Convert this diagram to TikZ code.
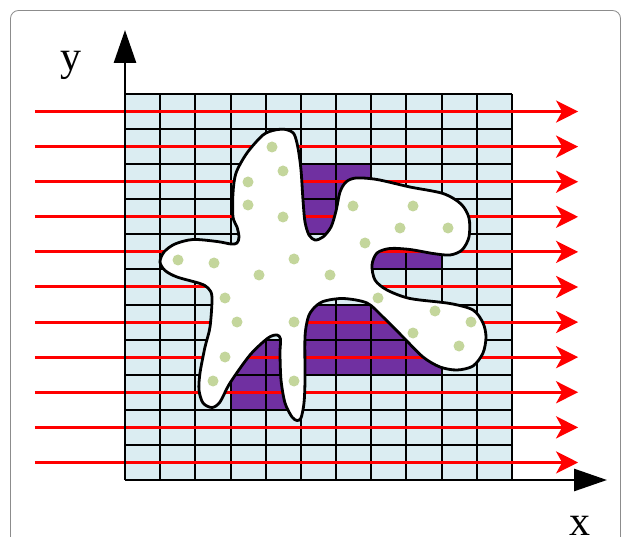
\documentclass[tikz,border=0pt]{standalone}
\usepackage{fontspec}
\setmainfont{Liberation Serif}
\usepackage{xcolor}
\usepackage{tikz}
\usetikzlibrary{arrows.meta}
\definecolor{gcblue}{rgb}{0.86,0.93,0.95}
\definecolor{gcpurple}{rgb}{0.44,0.19,0.63}
\definecolor{gcgreen}{rgb}{0.77,0.84,0.61}
\definecolor{gcframe}{rgb}{0.55,0.55,0.55}

\begin{document}
\begin{tikzpicture}[
  x=1pt, y=-1pt,
  cellbg/.style={fill=gcblue},
  hit/.style={fill=gcpurple},
  gridline/.style={black, line width=2pt},
  ray/.style={red, line width=3pt, -{Stealth[length=22pt, width=22pt, inset=6pt]}},
  axisline/.style={black, line width=2.8pt, -{Triangle[length=33pt, width=22pt]}},
  blob/.style={draw=black, fill=white, line width=2.8pt, line join=round},
  spot/.style={fill=gcgreen},
  label/.style={font=\fontsize{42}{48}\selectfont, inner sep=0pt, anchor=base}
]
\useasboundingbox (0,0) rectangle (621,537);

% outer frame
\draw[gcframe, line width=0.8pt, rounded corners=8pt] (10.5,10.5) rectangle (620.5,580);

% grid of cells, counted from the top left corner
\begin{scope}[shift={(125,94)}, x=35.18pt, y=-35.09pt]
  \fill[cellbg] (0,0) rectangle (11,11);
  \foreach \c/\r in {5/2,6/2,5/3,6/3,7/4,8/4,
                     5/6,6/6,7/6,8/6,5/7,6/7,7/7,8/7,
                     3/7,4/7,3/8,4/8}
    \fill[hit] (\c,\r) rectangle ++(1,1);
  \foreach \c in {0,...,11}
    \draw[gridline] (\c,0) -- (\c,11);
  \foreach \r in {0,...,11}
    \draw[gridline] (0,\r) -- (11,\r);

  % parallel rays
  \foreach \r in {0,...,10} {
    \coordinate (ray\r-w) at (-2.56,\r+0.5);
    \coordinate (ray\r-e) at (12.88,\r+0.5);
    \draw[ray] (ray\r-w) -- (ray\r-e);
  }
\end{scope}

% axes
\coordinate (origin) at (125,480);
\coordinate (ytip) at (125,30);
\coordinate (xtip) at (607,480);
\draw[axisline] (origin) -- (ytip);
\draw[axisline] (origin) -- (xtip);
\node[label] (ylabel) at (71,71) {y};
\node[label] (xlabel) at (580,535) {x};

% the body
\draw[blob] plot[smooth cycle, tension=0.5] coordinates {
  (286,129.5) (294,134) (298,148) (301,170) (303,200) (305,222) (309,235)
  (315,240) (323,237) (331,227) (336,211) (340,192) (346,182) (356,178)
  (377,179.5) (410,187) (443,193.5) (461,204) (469,218) (469,237) (462,250)
  (450,255) (433,253.5) (410,249.5) (390,248.5) (377,253) (372,265) (375,280)
  (387,290) (410,298.5) (450,303.5) (473,310) (483,323) (486,337) (483,353)
  (473,366) (457,370) (440,367) (423,357) (403,337) (383,317) (367,303)
  (343,298.5) (323,301.5) (313,309) (308,318) (305,337) (305,380) (304,403)
  (301,418) (297,420.5) (292,417) (285,403) (281,380) (280,353) (280.5,339)
  (277,335) (268,338) (250,355) (230,383) (220,402) (212,407.5) (203,403)
  (199,390) (200,373) (205,347) (210,327) (212,297) (208,288) (200,283.5)
  (177,277) (165,270.5) (160,262) (164,252) (175,244) (193,239.5) (217,241.5)
  (231,244) (237,243) (239,237) (237,227) (233,217) (233,193) (236,173)
  (247,153) (263,135) (275,130)
};

% seeds inside the body
\foreach \x/\y in {272/147, 283/171, 248/182, 248/205, 283/217,
                   178/260, 214/263, 259/275, 294/259, 330/275,
                   353/206, 413/206, 400/228, 448/228, 365/243,
                   225/298, 237/322, 225/357, 213/381, 294/322, 294/381,
                   378/298, 435/311, 471/322, 413/333, 459/346}
  \fill[spot] (\x,\y) circle (5.5);

\end{tikzpicture}
\end{document}
